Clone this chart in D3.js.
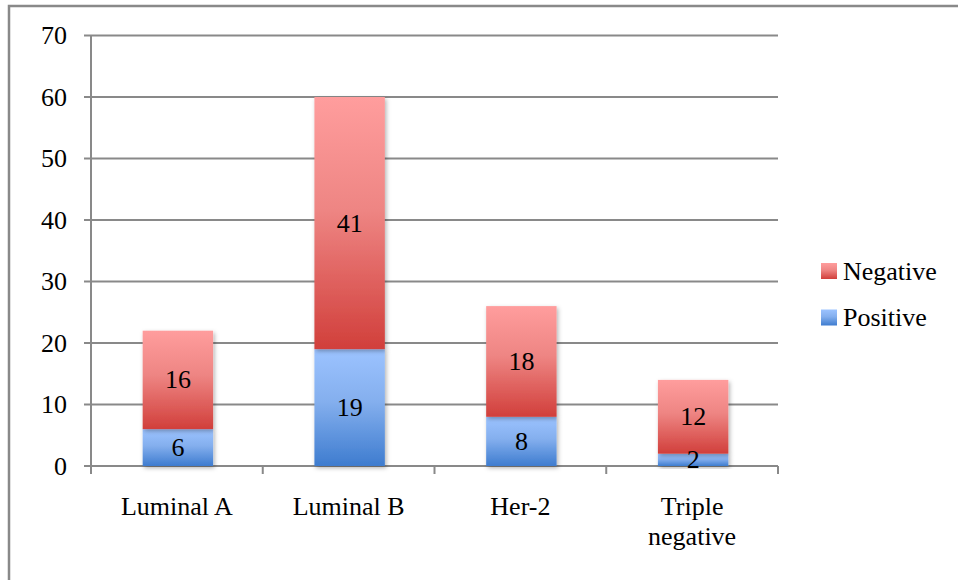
<!DOCTYPE html>
<html>
<head>
<meta charset="utf-8">
<script src="https://cdn.jsdelivr.net/npm/d3@7"></script>
<style>
  html, body { margin: 0; padding: 0; background: #fff; }
  svg { display: block; }
  text { font-family: "Liberation Serif", "Times New Roman", serif; fill: #000; }
</style>
</head>
<body>
<svg id="chart" width="958" height="580"></svg>
<script>
// Receptor status counts by molecular subtype
const categories = ["Luminal A", "Luminal B", "Her-2", "Triple negative"];
const positive = [6, 19, 8, 2];
const negative = [16, 41, 18, 12];
const seriesNames = ["Positive", "Negative"];
const yTicks = [0, 10, 20, 30, 40, 50, 60, 70];

const svg = d3.select("#chart");
const W = 958, H = 580;
const fontSize = 26;
const axisColor = "#898989";

// Outer chart frame (runs off the right and bottom edges)
svg.append("rect")
  .attr("x", 9).attr("y", 6)
  .attr("width", W + 20).attr("height", H + 20)
  .attr("fill", "none").attr("stroke", axisColor).attr("stroke-width", 2.5);

const plot = { left: 91, right: 778, top: 35.5, bottom: 466 };

const x = d3.scaleBand().domain(categories).range([plot.left, plot.right]).padding(0);
const y = d3.scaleLinear().domain([0, 70]).range([plot.bottom, plot.top]);
const barW = x.bandwidth() * 0.41;

const defs = svg.append("defs");
function gradient(id, stops) {
  const g = defs.append("linearGradient").attr("id", id)
    .attr("x1", 0).attr("y1", 0).attr("x2", 0).attr("y2", 1);
  stops.forEach(([o, c]) => g.append("stop").attr("offset", o).attr("stop-color", c));
}
gradient("gradNeg", [[0, "#ff9d9d"], [0.45, "#ee8583"], [1, "#d13f3b"]]);
gradient("gradPos", [[0, "#9cc3ff"], [0.45, "#84afee"], [1, "#3e7ccf"]]);

const shadow = defs.append("filter").attr("id", "shadow")
  .attr("x", "-20%").attr("y", "-20%").attr("width", "140%").attr("height", "140%");
shadow.append("feDropShadow")
  .attr("dx", 1.5).attr("dy", 2).attr("stdDeviation", 2)
  .attr("flood-color", "#000").attr("flood-opacity", 0.3);

// Horizontal gridlines with left tick marks
const grid = svg.append("g");
grid.selectAll("line.grid")
  .data(yTicks)
  .join("line")
  .attr("x1", plot.left - 7).attr("x2", plot.right)
  .attr("y1", d => y(d)).attr("y2", d => y(d))
  .attr("stroke", axisColor).attr("stroke-width", 2);

// Y axis tick labels
svg.append("g").selectAll("text")
  .data(yTicks)
  .join("text")
  .attr("x", 67).attr("y", d => y(d))
  .attr("text-anchor", "end").attr("dominant-baseline", "central")
  .attr("font-size", fontSize)
  .text(d => d);

// Vertical axis
svg.append("line")
  .attr("x1", plot.left).attr("x2", plot.left)
  .attr("y1", plot.top).attr("y2", plot.bottom + 8)
  .attr("stroke", axisColor).attr("stroke-width", 2);

// Category boundary ticks below the x axis
const boundaries = categories.map(c => x(c)).concat([plot.right]);
svg.append("g").selectAll("line")
  .data(boundaries.slice(1))
  .join("line")
  .attr("x1", d => d).attr("x2", d => d)
  .attr("y1", plot.bottom).attr("y2", plot.bottom + 8)
  .attr("stroke", axisColor).attr("stroke-width", 2);

// Stacked bars
const rows = categories.map((c, i) => ({ cat: c, Positive: positive[i], Negative: negative[i] }));
const stacked = d3.stack().keys(seriesNames)(rows);
const fills = { Positive: "url(#gradPos)", Negative: "url(#gradNeg)" };

const layers = svg.append("g").selectAll("g")
  .data(stacked)
  .join("g")
  .attr("fill", d => fills[d.key]);

layers.selectAll("rect")
  .data(d => d)
  .join("rect")
  .attr("x", d => x(d.data.cat) + (x.bandwidth() - barW) / 2 + 1)
  .attr("width", barW)
  .attr("y", d => y(d[1]))
  .attr("height", d => y(d[0]) - y(d[1]))
  .attr("filter", "url(#shadow)");

// Value labels centred in each segment
const labels = svg.append("g");
stacked.forEach(layer => {
  labels.selectAll(null)
    .data(layer)
    .join("text")
    .attr("x", d => x(d.data.cat) + x.bandwidth() / 2 + 1)
    .attr("y", d => (y(d[0]) + y(d[1])) / 2)
    .attr("text-anchor", "middle").attr("dominant-baseline", "central")
    .attr("font-size", fontSize)
    .text(d => d.data[layer.key]);
});

// Category labels, wrapped onto two lines when too wide
const catLabels = svg.append("g").selectAll("text")
  .data(categories)
  .join("text")
  .attr("x", d => x(d) + x.bandwidth() / 2)
  .attr("y", 515)
  .attr("text-anchor", "middle")
  .attr("font-size", fontSize);
catLabels.each(function (d) {
  const t = d3.select(this);
  t.text(d);
  if (this.getComputedTextLength() > 140) {
    t.text(null);
    d.split(" ").forEach((w, i) => {
      t.append("tspan")
        .attr("x", x(d) + x.bandwidth() / 2)
        .attr("dy", i === 0 ? 0 : 30)
        .text(w);
    });
  }
});

// Legend
const legendItems = ["Negative", "Positive"];
const legend = svg.append("g").selectAll("g")
  .data(legendItems)
  .join("g")
  .attr("transform", (d, i) => `translate(821, ${271 + i * 46.5})`);
legend.append("rect")
  .attr("x", 0).attr("y", -8).attr("width", 16).attr("height", 16)
  .attr("fill", d => fills[d]);
legend.append("text")
  .attr("x", 22).attr("y", 0)
  .attr("dominant-baseline", "central")
  .attr("font-size", fontSize)
  .text(d => d);
</script>
</body>
</html>
